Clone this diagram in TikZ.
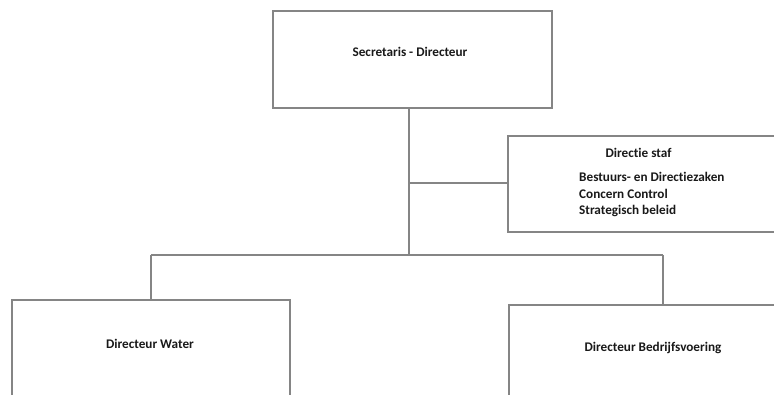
\documentclass[tikz,border=0pt]{standalone}
\usepackage{fontspec}
\setmainfont{Carlito}[Ligatures=NoCommon]
\begin{document}
\begin{tikzpicture}[x=1pt,y=-1pt,
  box/.style={draw=linegray, line width=1.3pt, fill=white, rectangle, inner sep=0pt},
  txt/.style={font=\fontsize{13.2}{17}\selectfont\bfseries, text=black!90, inner sep=0pt},
  conn/.style={draw=linegray, line width=1.3pt}]
\definecolor{linegray}{HTML}{858585}
\useasboundingbox (0,0) rectangle (774,394);

% boxes
\node[box, minimum width=279pt, minimum height=97pt] (top) at (412.5,59.5) {};
\node[box, minimum width=280pt, minimum height=96pt] (staff) at (648,184) {};
\node[box, minimum width=278pt, minimum height=120pt] (water) at (151,360) {};
\node[box, minimum width=280pt, minimum height=120pt] (bedr) at (649,365) {};

% texts
\node[txt] (ttop) at (410,52) {Secretaris - Directeur};
\node[txt] (tstaf) at (638.5,153) {Directie staf};
\node[txt, anchor=west] (ts1) at (579,177) {Bestuurs- en Directiezaken};
\node[txt, anchor=west] (ts2) at (579,194) {Concern Control};
\node[txt, anchor=west] (ts3) at (579,211) {Strategisch beleid};
\node[txt] (twater) at (150,344) {Directeur Water};
\node[txt] (tbedr) at (653,348) {Directeur Bedrijfsvoering};

% connectors
\coordinate (j1) at (409,183);
\coordinate (j2) at (409,255);
\coordinate (lw) at (151,255);
\coordinate (rb) at (663,255);
\draw[conn] (top.south -| j1) -- (j2);
\draw[conn] (j1) -- (staff.west |- j1);
\draw[conn] (lw) -- (rb);
\draw[conn] (lw) -- (water.north -| lw);
\draw[conn] (rb) -- (bedr.north -| rb);
\end{tikzpicture}
\end{document}
